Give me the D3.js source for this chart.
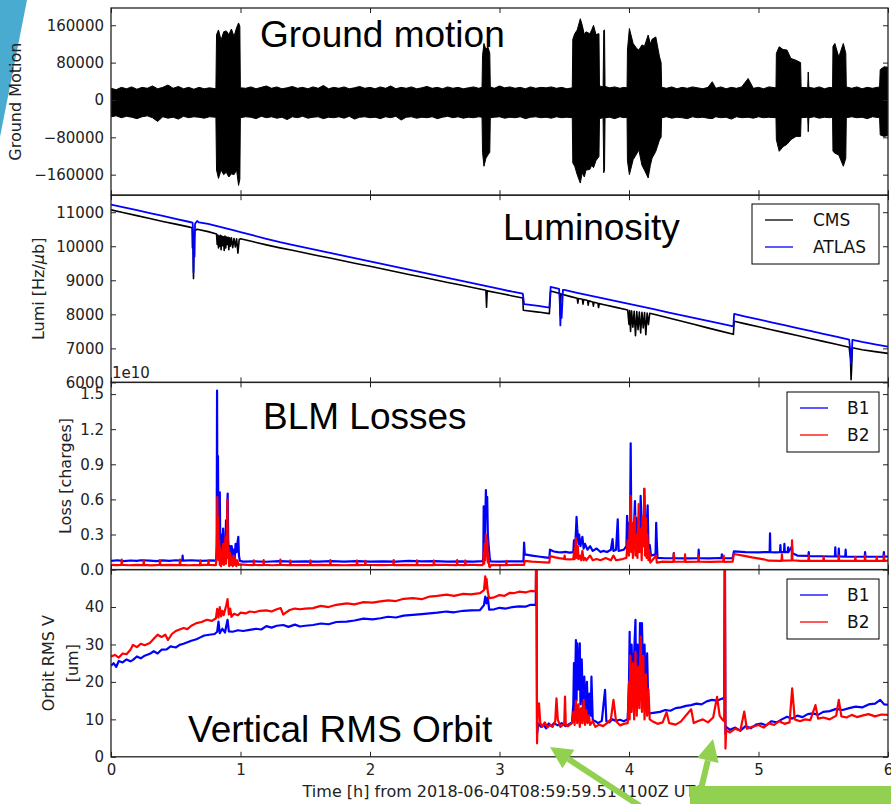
<!DOCTYPE html>
<html>
<head>
<meta charset="utf-8">
<script src="https://cdn.jsdelivr.net/npm/d3@7"></script>
<style>
  html, body { margin: 0; padding: 0; background: #fff; }
  svg { display: block; }
</style>
</head>
<body>
<div id="chart"></div>
<script>
// ---- data (time in hours) ----
const hourTicks = [0, 1, 2, 3, 4, 5, 6];
const groundTicks = [-160000, -80000, 0, 80000, 160000];
const lumiTicks = [6000, 7000, 8000, 9000, 10000, 11000];
const lossTicks = [0, 0.3, 0.6, 0.9, 1.2, 1.5];
const orbitTicks = [0, 10, 20, 30, 40];

// ground motion envelope: [hour, max, min]
const groundEnvelope = [
  [0.00,25000,-36000],[0.04,22000,-34000],[0.08,27000,-38000],[0.12,24000,-35000],[0.16,28000,-37000],
  [0.20,23000,-40000],[0.24,27000,-36000],[0.28,25000,-34000],[0.32,30000,-38000],[0.36,24000,-46000],
  [0.40,27000,-36000],[0.44,32000,-39000],[0.48,25000,-37000],[0.52,29000,-41000],[0.56,24000,-35000],
  [0.60,27000,-38000],[0.64,23000,-36000],[0.68,27000,-37000],[0.72,24000,-39000],[0.76,26000,-36000],
  [0.81,24000,-37000],
  [0.815,140000,-150000],[0.83,150000,-168000],[0.85,128000,-150000],[0.87,146000,-160000],[0.89,148000,-155000],
  [0.91,140000,-165000],[0.93,152000,-158000],[0.95,136000,-160000],[0.97,155000,-150000],[0.985,165000,-183000],
  [0.995,158000,-170000],[0.999,26000,-38000],
  [1.04,25000,-36000],[1.08,28000,-37000],[1.12,24000,-40000],[1.16,27000,-35000],[1.20,30000,-38000],
  [1.24,25000,-36000],[1.28,28000,-39000],[1.32,24000,-37000],[1.36,26000,-42000],[1.40,29000,-36000],
  [1.44,25000,-38000],[1.48,27000,-35000],[1.52,24000,-39000],[1.56,28000,-37000],[1.60,25000,-36000],
  [1.64,31000,-40000],[1.68,24000,-37000],[1.72,27000,-38000],[1.76,25000,-36000],[1.80,28000,-39000],
  [1.84,24000,-35000],[1.88,26000,-41000],[1.92,29000,-37000],[1.96,25000,-36000],[2.00,27000,-38000],
  [2.04,24000,-37000],[2.08,28000,-40000],[2.12,25000,-36000],[2.16,30000,-38000],[2.20,24000,-35000],
  [2.24,27000,-43000],[2.28,25000,-37000],[2.32,28000,-36000],[2.36,24000,-39000],[2.40,26000,-37000],
  [2.44,29000,-38000],[2.48,25000,-36000],[2.52,27000,-40000],[2.56,24000,-37000],[2.60,28000,-35000],
  [2.64,25000,-38000],[2.68,27000,-36000],[2.72,24000,-39000],[2.76,26000,-37000],[2.80,28000,-38000],
  [2.84,25000,-36000],[2.865,27000,-37000],
  [2.869,95000,-112000],[2.88,121000,-142000],[2.895,108000,-125000],[2.91,114000,-118000],[2.925,100000,-112000],
  [2.929,28000,-38000],
  [2.96,25000,-37000],[3.00,30000,-36000],[3.04,26000,-39000],[3.08,28000,-37000],[3.12,25000,-38000],
  [3.16,27000,-36000],[3.20,24000,-40000],[3.24,28000,-37000],[3.28,25000,-36000],[3.32,27000,-38000],
  [3.36,26000,-37000],[3.40,28000,-39000],[3.44,25000,-36000],[3.48,27000,-38000],[3.52,24000,-37000],
  [3.562,26000,-38000],
  [3.566,130000,-135000],[3.581,142000,-142000],[3.600,150000,-160000],[3.624,174000,-178000],[3.639,160000,-156000],
  [3.655,140000,-165000],[3.668,146000,-150000],[3.697,142000,-149000],[3.712,150000,-140000],[3.726,160000,-145000],
  [3.745,140000,-130000],[3.768,142000,-121000],[3.772,30000,-40000],[3.80,28000,-38000],
  [3.805,149000,-156000],[3.811,150000,-150000],[3.815,29000,-38000],
  [3.85,26000,-37000],[3.89,28000,-40000],[3.93,25000,-36000],[3.96,27000,-38000],[3.985,26000,-37000],
  [3.988,107000,-130000],[4.003,153000,-160000],[4.032,121000,-128000],[4.060,110000,-115000],[4.076,107000,-107000],
  [4.10,118000,-140000],[4.119,115000,-150000],[4.148,139000,-167000],[4.165,120000,-140000],[4.178,130000,-125000],
  [4.207,135000,-110000],[4.236,92000,-85000],[4.248,80000,-80000],[4.252,27000,-38000],
  [4.29,25000,-36000],[4.33,28000,-39000],[4.37,24000,-37000],[4.41,27000,-38000],[4.45,25000,-40000],
  [4.49,28000,-36000],[4.53,26000,-38000],[4.57,24000,-37000],[4.61,27000,-39000],[4.643,39000,-40000],
  [4.67,25000,-36000],[4.71,28000,-38000],[4.75,24000,-37000],[4.79,27000,-41000],[4.83,25000,-36000],
  [4.87,28000,-38000],[4.92,46000,-37000],[4.96,25000,-39000],[5.00,27000,-36000],[5.04,24000,-38000],
  [5.08,28000,-37000],[5.135,26000,-38000],
  [5.138,100000,-85000],[5.16,114000,-110000],[5.19,108000,-100000],[5.22,107000,-95000],[5.25,89000,-85000],
  [5.29,85000,-78000],[5.325,80000,-78000],[5.329,27000,-38000],[5.38,26000,-37000],[5.384,60000,-68000],
  [5.389,27000,-38000],
  [5.43,25000,-36000],[5.47,28000,-39000],[5.51,24000,-37000],[5.55,27000,-38000],[5.572,26000,-37000],
  [5.575,115000,-110000],[5.59,121000,-114000],[5.62,92000,-118000],[5.655,121000,-142000],[5.674,100000,-125000],
  [5.678,28000,-38000],
  [5.72,25000,-36000],[5.76,28000,-38000],[5.80,24000,-37000],[5.84,27000,-40000],[5.88,25000,-36000],
  [5.935,28000,-38000],[5.94,65000,-75000],[5.97,71000,-78000],[6.00,70000,-76000]
];

// luminosity [hour, Hz/ub]
const lumiCms = [
  [0.00,11070],[0.10,10985],[0.20,10900],[0.30,10815],[0.40,10730],[0.50,10650],[0.60,10570],
  [0.626,10545],[0.629,9950],[0.633,10300],[0.637,9050],[0.641,10100],[0.645,10450],[0.665,10500],
  [0.75,10430],[0.815,10360],
  [0.82,10050],[0.825,10330],[0.83,9950],[0.835,10300],[0.84,10000],[0.845,10320],[0.85,9900],[0.856,10300],
  [0.862,10020],[0.868,10280],[0.874,9880],[0.88,10300],[0.886,9950],[0.892,10270],[0.898,10050],[0.904,10260],
  [0.91,9900],[0.916,10250],[0.922,10000],[0.93,10250],[0.94,9960],[0.95,10230],[0.96,9980],[0.97,10220],
  [0.98,9800],[0.99,10200],
  [1.00,10220],[1.10,10130],[1.20,10040],[1.305,9953],[1.40,9880],[1.50,9800],[1.60,9720],[1.70,9645],
  [1.80,9565],[1.90,9485],[2.00,9410],[2.10,9330],[2.20,9250],[2.30,9170],[2.40,9095],[2.50,9015],
  [2.60,8935],[2.70,8860],[2.80,8780],[2.895,8705],[2.90,8206],[2.905,8690],[3.00,8620],[3.10,8540],
  [3.18,8478],[3.184,8118],[3.30,8066],[3.385,8020],[3.395,8686],[3.465,8610],[3.47,7950],[3.475,8600],
  [3.55,8520],[3.60,8470],[3.605,8330],[3.61,8465],[3.64,8445],[3.645,8300],[3.65,8435],[3.68,8405],
  [3.685,8270],[3.69,8395],[3.72,8365],[3.725,8240],[3.73,8355],[3.76,8325],[3.765,8200],[3.77,8315],
  [3.80,8290],[3.90,8205],[3.99,8125],
  [4.00,7700],[4.005,8110],[4.012,7500],[4.02,8100],[4.03,7620],[4.04,8090],[4.05,7373],[4.06,8080],
  [4.07,7550],[4.08,8070],[4.09,7450],[4.10,8060],[4.11,7600],[4.12,8050],[4.13,7400],[4.14,8040],
  [4.15,7700],[4.16,8030],
  [4.20,7995],[4.30,7899],[4.40,7803],[4.50,7707],[4.60,7610],[4.70,7514],[4.806,7412],[4.812,7794],
  [4.90,7719],[5.00,7633],[5.10,7548],[5.20,7462],[5.30,7377],[5.40,7292],[5.50,7206],[5.60,7121],
  [5.70,7035],[5.71,6700],[5.715,6078],[5.72,6500],[5.725,7020],[5.80,6960],[5.90,6905],[6.00,6853]
];
const lumiAtlas = [
  [0.00,11225],[0.10,11140],[0.20,11060],[0.30,10975],[0.40,10890],[0.50,10805],[0.60,10720],
  [0.630,10692],[0.633,10500],[0.637,9235],[0.641,10350],[0.645,9700],[0.649,10660],[0.665,10740],
  [0.68,10700],[0.75,10657],[0.85,10560],[0.95,10463],[1.00,10414],[1.10,10317],[1.20,10220],
  [1.305,10118],[1.40,10041],[1.50,9960],[1.60,9879],[1.70,9798],[1.80,9717],[1.90,9636],[2.00,9555],
  [2.10,9474],[2.20,9393],[2.30,9312],[2.40,9231],[2.50,9150],[2.60,9069],[2.70,8988],[2.80,8907],
  [2.90,8826],[3.00,8745],[3.10,8664],[3.18,8610],[3.19,8300],[3.30,8250],[3.385,8196],[3.395,8804],
  [3.46,8750],[3.465,8400],[3.47,7676],[3.475,8300],[3.48,7900],[3.49,8720],[3.50,8717],[3.60,8633],
  [3.70,8550],[3.80,8468],[3.90,8387],[4.00,8305],[4.10,8224],[4.20,8142],[4.30,8060],[4.40,7979],
  [4.50,7897],[4.60,7815],[4.70,7734],[4.806,7647],[4.812,8010],[4.90,7936],[5.00,7851],[5.10,7767],
  [5.20,7682],[5.30,7598],[5.40,7513],[5.50,7429],[5.60,7344],[5.70,7260],[5.71,6900],[5.715,6549],
  [5.72,6800],[5.725,7250],[5.80,7190],[5.90,7120],[6.00,7050]
];

// BLM losses [hour, charges / 1e10]
const lossB1 = [
  [0.00,0.075],[0.05,0.080],[0.10,0.072],[0.15,0.078],[0.20,0.074],[0.23,0.080],[0.30,0.076],[0.35,0.073],
  [0.40,0.079],[0.45,0.075],[0.50,0.080],[0.551,0.077],[0.553,0.12],[0.556,0.077],[0.62,0.080],[0.70,0.075],
  [0.76,0.078],[0.812,0.076],
  [0.816,0.20],[0.819,1.53],[0.822,0.30],[0.826,0.97],[0.830,0.25],[0.835,0.50],[0.840,0.66],[0.844,0.20],
  [0.85,0.30],[0.855,0.12],[0.86,0.22],[0.866,0.35],[0.872,0.15],[0.878,0.28],[0.884,0.20],[0.888,0.42],
  [0.893,0.18],[0.898,0.55],[0.901,0.65],[0.905,0.25],[0.912,0.15],[0.918,0.20],[0.925,0.12],[0.932,0.20],
  [0.94,0.10],[0.948,0.17],[0.955,0.10],[0.962,0.22],[0.97,0.15],[0.978,0.24],[0.983,0.28],[0.988,0.12],
  [0.995,0.075],
  [1.02,0.068],[1.10,0.070],[1.20,0.067],[1.30,0.072],[1.40,0.068],[1.50,0.071],[1.60,0.068],[1.70,0.073],
  [1.80,0.069],[1.90,0.072],[2.00,0.068],[2.10,0.071],[2.20,0.069],[2.30,0.074],[2.40,0.070],[2.50,0.072],
  [2.60,0.068],[2.70,0.071],[2.80,0.069],[2.87,0.072],
  [2.875,0.10],[2.878,0.54],[2.882,0.20],[2.888,0.30],[2.895,0.68],[2.90,0.45],[2.905,0.62],[2.91,0.30],
  [2.918,0.18],[2.925,0.10],[2.93,0.070],[3.00,0.069],[3.10,0.071],[3.185,0.070],
  [3.19,0.23],[3.195,0.13],[3.25,0.120],[3.30,0.112],[3.35,0.105],[3.385,0.100],[3.39,0.170],[3.42,0.155],
  [3.45,0.150],[3.48,0.148],[3.51,0.152],[3.54,0.145],[3.57,0.15],
  [3.575,0.25],[3.585,0.20],[3.595,0.45],[3.60,0.35],[3.61,0.22],[3.615,0.30],[3.625,0.20],[3.64,0.28],
  [3.65,0.18],[3.66,0.22],[3.68,0.17],[3.70,0.20],[3.72,0.16],[3.75,0.18],[3.78,0.15],[3.80,0.16],
  [3.83,0.15],[3.86,0.17],[3.873,0.26],[3.88,0.16],[3.90,0.17],[3.913,0.43],[3.92,0.16],[3.96,0.17],
  [3.98,0.20],
  [3.985,0.46],[3.99,0.25],[4.00,0.40],[4.007,0.18],[4.013,1.08],[4.018,0.30],[4.025,0.37],[4.035,0.25],
  [4.046,0.585],[4.052,0.30],[4.058,0.44],[4.065,0.25],[4.08,0.48],[4.085,0.28],[4.09,0.63],[4.10,0.30],
  [4.108,0.40],[4.113,0.25],[4.118,0.69],[4.125,0.32],[4.132,0.25],[4.144,0.55],[4.15,0.20],[4.16,0.21],
  [4.17,0.12],[4.205,0.13],[4.21,0.40],[4.215,0.23],[4.22,0.10],
  [4.28,0.097],[4.343,0.098],[4.346,0.14],[4.349,0.097],[4.45,0.096],[4.535,0.098],[4.538,0.17],[4.541,0.097],
  [4.62,0.096],[4.70,0.099],[4.714,0.097],[4.717,0.13],[4.72,0.098],[4.80,0.097],
  [4.81,0.155],[4.90,0.150],[5.00,0.148],[5.086,0.150],[5.089,0.31],[5.092,0.150],[5.13,0.148],[5.166,0.150],
  [5.169,0.21],[5.172,0.15],[5.197,0.150],[5.20,0.22],[5.203,0.15],[5.226,0.150],[5.229,0.19],[5.232,0.15],
  [5.259,0.20],[5.262,0.14],[5.30,0.12],[5.385,0.118],[5.388,0.15],[5.391,0.115],[5.48,0.114],[5.59,0.112],
  [5.593,0.19],[5.596,0.113],[5.617,0.112],[5.62,0.18],[5.623,0.113],[5.67,0.111],[5.673,0.17],[5.676,0.112],
  [5.82,0.110],[5.823,0.15],[5.826,0.111],[5.965,0.110],[5.968,0.15],[5.971,0.111],[6.00,0.112]
];
const lossB2 = [
  [0.00,0.040],[0.04,0.038],[0.08,0.041],[0.083,0.085],[0.086,0.040],[0.14,0.037],[0.20,0.041],[0.25,0.039],
  [0.253,0.080],[0.256,0.040],[0.31,0.036],[0.375,0.040],[0.378,0.082],[0.381,0.039],[0.45,0.041],[0.53,0.038],
  [0.533,0.085],[0.536,0.040],[0.60,0.037],[0.687,0.040],[0.690,0.080],[0.693,0.039],[0.75,0.042],[0.753,0.078],
  [0.756,0.040],[0.81,0.038],
  [0.815,0.10],[0.819,0.30],[0.821,0.62],[0.824,0.15],[0.828,0.45],[0.832,0.08],[0.836,0.25],[0.84,0.04],
  [0.845,0.18],[0.85,0.03],[0.855,0.12],[0.86,0.05],[0.866,0.22],[0.872,0.04],[0.878,0.15],[0.884,0.28],
  [0.888,0.05],[0.894,0.20],[0.899,0.60],[0.903,0.10],[0.908,0.18],[0.913,0.03],[0.92,0.14],[0.926,0.04],
  [0.932,0.10],[0.94,0.03],[0.946,0.12],[0.952,0.04],[0.96,0.09],[0.968,0.03],[0.975,0.08],[0.985,0.04],
  [0.995,0.045],
  [1.05,0.040],[1.10,0.038],[1.103,0.080],[1.106,0.040],[1.176,0.039],[1.179,0.082],[1.182,0.040],[1.25,0.037],
  [1.305,0.041],[1.308,0.085],[1.311,0.040],[1.382,0.039],[1.385,0.078],[1.388,0.040],[1.46,0.038],[1.537,0.040],
  [1.540,0.080],[1.543,0.039],[1.62,0.041],[1.691,0.038],[1.694,0.082],[1.697,0.040],[1.80,0.037],[1.897,0.040],
  [1.900,0.078],[1.903,0.039],[1.961,0.041],[1.964,0.075],[1.967,0.040],[2.08,0.038],[2.18,0.040],[2.183,0.082],
  [2.186,0.039],[2.27,0.041],[2.36,0.039],[2.363,0.080],[2.366,0.040],[2.49,0.038],[2.493,0.078],[2.496,0.040],
  [2.58,0.041],[2.67,0.039],[2.673,0.082],[2.676,0.040],[2.733,0.038],[2.736,0.078],[2.739,0.040],[2.80,0.041],
  [2.87,0.039],
  [2.875,0.06],[2.878,0.15],[2.882,0.05],[2.886,0.22],[2.89,0.08],[2.895,0.30],[2.90,0.12],[2.905,0.25],
  [2.91,0.06],[2.915,0.12],[2.92,0.03],[2.925,0.02],[2.935,0.040],[3.00,0.038],[3.05,0.040],[3.053,0.075],
  [3.056,0.039],[3.12,0.040],[3.19,0.041],
  [3.195,0.075],[3.25,0.068],[3.30,0.065],[3.35,0.062],[3.385,0.060],[3.39,0.115],[3.43,0.105],[3.46,0.098],
  [3.50,0.092],[3.503,0.12],[3.506,0.090],[3.54,0.088],[3.57,0.090],
  [3.575,0.15],[3.58,0.09],[3.59,0.27],[3.595,0.10],[3.605,0.20],[3.61,0.09],[3.62,0.12],[3.63,0.08],
  [3.64,0.16],[3.65,0.08],[3.66,0.10],[3.67,0.08],[3.70,0.12],[3.72,0.08],[3.75,0.09],[3.78,0.08],
  [3.82,0.10],[3.86,0.08],[3.88,0.12],[3.90,0.08],[3.95,0.09],[3.98,0.10],
  [3.99,0.25],[4.00,0.12],[4.005,0.37],[4.013,0.63],[4.018,0.15],[4.025,0.40],[4.03,0.10],[4.038,0.35],
  [4.046,0.46],[4.05,0.12],[4.058,0.30],[4.065,0.10],[4.075,0.56],[4.08,0.15],[4.09,0.35],[4.098,0.08],
  [4.105,0.45],[4.112,0.20],[4.118,0.69],[4.124,0.12],[4.13,0.44],[4.136,0.10],[4.142,0.30],[4.15,0.08],
  [4.158,0.15],[4.165,0.06],[4.21,0.12],[4.215,0.06],
  [4.26,0.068],[4.343,0.066],[4.346,0.14],[4.349,0.067],[4.43,0.068],[4.433,0.13],[4.436,0.066],[4.535,0.068],
  [4.538,0.12],[4.541,0.067],[4.63,0.066],[4.70,0.068],[4.728,0.067],[4.731,0.12],[4.734,0.066],[4.80,0.068],
  [4.81,0.133],[4.88,0.120],[4.95,0.105],[5.04,0.088],[5.08,0.076],[5.178,0.075],[5.181,0.13],[5.184,0.076],
  [5.256,0.078],[5.259,0.25],[5.262,0.080],[5.32,0.075],[5.385,0.074],[5.388,0.12],[5.391,0.076],[5.50,0.075],
  [5.503,0.11],[5.506,0.074],[5.617,0.076],[5.62,0.12],[5.623,0.075],[5.745,0.074],[5.748,0.11],[5.751,0.076],
  [5.82,0.075],[5.823,0.12],[5.826,0.074],[5.91,0.076],[5.913,0.11],[5.916,0.075],[5.965,0.074],[5.968,0.12],
  [5.971,0.075],[6.00,0.076]
];

// vertical orbit RMS [hour, um]
const orbitB1 = [
  [0.00,24.3],[0.02,25.0],[0.04,24.0],[0.06,25.6],[0.09,25.2],[0.12,26.0],[0.15,25.5],[0.17,25.9],
  [0.20,26.8],[0.23,26.3],[0.26,27.0],[0.30,27.5],[0.33,28.2],[0.36,27.6],[0.39,28.6],[0.43,28.7],
  [0.46,29.5],[0.50,29.2],[0.53,29.9],[0.56,30.2],[0.59,30.6],[0.62,31.0],[0.66,31.4],[0.69,31.9],
  [0.72,32.4],[0.76,32.6],[0.80,32.8],[0.82,33.4],[0.83,36.1],[0.84,33.0],[0.86,34.2],[0.88,33.2],
  [0.90,36.6],[0.91,33.5],[0.94,33.4],[0.98,33.8],[1.02,33.6],[1.07,33.9],[1.12,34.2],[1.16,34.0],
  [1.20,34.9],[1.24,34.5],[1.28,35.0],[1.33,35.2],[1.37,34.7],[1.42,35.3],[1.46,34.8],[1.50,35.0],
  [1.56,35.2],[1.62,35.6],[1.68,35.4],[1.74,36.0],[1.82,36.1],[1.88,36.4],[1.95,36.9],[2.02,36.7],
  [2.08,37.0],[2.14,37.4],[2.20,37.2],[2.26,37.7],[2.33,37.9],[2.40,38.1],[2.46,38.3],[2.52,38.5],
  [2.59,38.8],[2.65,38.6],[2.72,39.0],[2.78,39.1],[2.85,39.2],[2.88,40.5],[2.89,42.8],[2.90,41.0],
  [2.91,42.5],[2.92,39.3],[2.96,39.4],[3.00,39.8],[3.05,39.6],[3.10,40.0],[3.15,40.2],[3.20,40.1],
  [3.24,40.6],[3.28,40.6],
  [3.285,60],[3.29,6.0],[3.30,8.9],[3.32,8.0],[3.34,8.6],[3.36,7.6],[3.38,8.9],[3.40,8.2],[3.42,9.0],
  [3.45,8.4],[3.48,9.0],[3.51,8.2],[3.54,8.8],[3.56,9.2],
  [3.57,14],[3.575,25],[3.58,12],[3.59,31.2],[3.595,15],[3.60,30.3],[3.61,18],[3.62,30.3],[3.625,14],
  [3.635,26],[3.645,12],[3.655,21.4],[3.665,11],[3.675,20],[3.685,10],[3.695,16.9],[3.705,11],[3.71,21.4],
  [3.72,9.8],[3.74,9.5],[3.76,9.0],[3.79,9.6],[3.815,17.9],[3.825,9.5],[3.85,9.2],[3.87,10.0],[3.90,9.6],
  [3.93,9.9],[3.96,9.5],[3.99,10.0],
  [4.00,20],[4.005,33.4],[4.01,15],[4.02,30],[4.03,18],[4.04,28],[4.05,36.6],[4.055,16],[4.065,30],
  [4.075,14],[4.085,35.7],[4.09,18],[4.10,35.7],[4.11,20],[4.12,30],[4.13,15],[4.14,27.6],[4.15,12],
  [4.16,11.6],
  [4.20,11.8],[4.24,12.0],[4.28,12.5],[4.32,12.3],[4.36,13.0],[4.40,13.2],[4.44,13.6],[4.48,13.8],
  [4.52,14.2],[4.56,14.0],[4.60,14.8],[4.64,15.2],[4.68,15.0],[4.72,15.6],[4.735,15.4],
  [4.74,60],[4.745,6.0],[4.75,8.0],[4.78,7.2],[4.82,7.8],[4.86,7.0],[4.90,8.2],[4.94,7.6],[4.98,8.6],
  [5.02,8.9],[5.06,8.4],[5.10,9.5],[5.14,9.2],[5.18,10.0],[5.22,10.7],[5.26,10.2],[5.30,11.0],[5.34,10.6],
  [5.38,11.4],[5.42,11.6],[5.46,11.2],[5.50,12.0],[5.55,12.2],[5.60,12.8],[5.65,12.5],[5.70,13.0],
  [5.75,13.4],[5.80,13.2],[5.85,14.0],[5.90,14.2],[5.94,15.2],[5.97,14.0],[6.00,13.9]
];
const orbitB2 = [
  [0.00,26.8],[0.03,27.2],[0.06,26.5],[0.09,27.6],[0.12,27.4],[0.15,28.6],[0.17,29.9],[0.20,29.3],
  [0.23,30.2],[0.26,29.8],[0.30,30.4],[0.33,31.5],[0.36,32.6],[0.39,32.0],[0.42,32.6],[0.44,31.2],
  [0.47,32.8],[0.50,33.6],[0.53,34.0],[0.56,34.4],[0.59,34.1],[0.62,35.0],[0.66,35.7],[0.70,36.0],
  [0.74,36.6],[0.78,36.3],[0.81,37.0],
  [0.82,39.5],[0.83,37.2],[0.84,40.0],[0.85,37.5],[0.86,39.0],[0.87,37.8],[0.89,40.5],[0.90,42.1],
  [0.91,38.0],[0.92,39.6],[0.93,37.4],[0.95,38.2],[0.98,37.8],[1.00,38.5],[1.04,38.3],[1.07,38.8],
  [1.11,38.6],[1.15,39.0],[1.20,39.1],[1.24,38.8],[1.28,39.4],[1.31,39.7],[1.33,38.0],[1.35,38.5],
  [1.38,39.2],[1.42,39.6],[1.46,39.4],[1.50,39.6],[1.56,39.7],[1.62,40.3],[1.68,40.0],[1.74,40.6],
  [1.82,41.0],[1.88,40.7],[1.95,41.3],[2.02,41.2],[2.08,41.5],[2.14,41.8],[2.20,41.6],[2.26,42.2],
  [2.33,42.4],[2.40,42.1],[2.46,42.8],[2.52,43.0],[2.59,43.3],[2.65,43.0],[2.72,43.5],[2.78,43.4],
  [2.85,43.7],[2.88,44.5],[2.89,48.2],[2.895,45.0],[2.90,47.5],[2.91,44.0],[2.92,42.4],[2.96,42.6],
  [3.00,43.2],[3.04,43.0],[3.08,43.8],[3.11,43.7],[3.15,44.1],[3.20,43.9],[3.24,44.3],[3.28,44.2],
  [3.285,60],[3.29,3.6],[3.295,11.6],[3.305,14.3],[3.315,9.0],[3.33,8.0],[3.35,9.2],[3.37,7.8],
  [3.39,8.5],[3.41,8.0],[3.43,9.5],[3.44,15.6],[3.45,10.0],[3.47,8.0],[3.50,8.8],[3.506,16.1],
  [3.512,8.4],[3.53,8.2],[3.56,9.0],
  [3.57,12.0],[3.58,8.5],[3.59,15.0],[3.60,9.0],[3.61,14.0],[3.62,8.0],[3.63,13.0],[3.64,9.0],
  [3.65,15.2],[3.66,8.5],[3.67,12.5],[3.68,9.0],[3.69,11.0],[3.70,8.5],[3.72,9.5],[3.74,8.0],
  [3.77,8.6],[3.80,8.2],[3.83,9.0],[3.86,10.0],[3.88,15.2],[3.90,9.5],[3.93,8.4],[3.96,8.8],
  [3.99,9.0],[4.00,20],[4.005,10],[4.01,27],[4.02,12],[4.03,25],[4.04,10],[4.05,28],[4.06,11],
  [4.07,24],[4.08,13],[4.09,32.1],[4.10,12],[4.11,27],[4.12,10],[4.13,22],[4.14,11],[4.15,18],
  [4.16,10],[4.18,9.5],
  [4.22,8.8],[4.26,9.2],[4.29,11.9],[4.31,9.0],[4.36,8.6],[4.40,9.4],[4.48,12.7],[4.50,9.0],
  [4.53,9.5],[4.57,10.0],[4.61,9.2],[4.65,10.5],[4.68,16.0],[4.70,11.0],[4.72,10.0],[4.735,9.5],
  [4.74,60],[4.745,2.2],[4.75,7.1],[4.78,6.5],[4.82,7.5],[4.86,7.0],[4.89,12.1],[4.91,7.5],
  [4.95,8.0],[5.00,8.5],[5.04,7.8],[5.08,9.0],[5.12,8.5],[5.16,9.5],[5.20,8.8],[5.24,9.2],
  [5.26,18.3],[5.28,10.0],[5.32,9.5],[5.36,10.0],[5.40,9.8],[5.44,13.8],[5.46,10.2],[5.50,10.5],
  [5.55,10.0],[5.60,11.0],[5.62,15.2],[5.64,10.8],[5.68,10.5],[5.72,11.2],[5.76,10.6],[5.80,11.0],
  [5.85,11.4],[5.90,10.8],[5.95,11.3],[6.00,11.2]
];

// ---- chart ----
class StackedTimeChart {
    constructor(containerId) {
        this.containerId = containerId;
        this.width = 891;
        this.height = 804;
        this.left = 111;
        this.right = 888;
        this.top = 8;
        this.panelHeight = 187.2;
        this.tickFont = 'DejaVu Sans, Verdana, sans-serif';
        this.titleFont = 'Liberation Sans, Arial, sans-serif';
        this.x = d3.scaleLinear().domain([0, 6]).range([this.left, this.right]);
        this.init();
    }

    init() {
        this.svg = d3.select(`#${this.containerId}`)
            .append('svg')
            .attr('width', this.width)
            .attr('height', this.height);

        this.drawDecor();

        this.drawPanel(0, {
            domain: [-204000, 197000], ticks: groundTicks, format: d3.format('d'),
            title: 'Ground motion', titleX: 260, titleY: 47,
            label: ['Ground Motion'], labelX: [15.5],
            draw: (g, y) => {
                const area = d3.area()
                    .x(d => this.x(d[0]))
                    .y0(d => y(d[2]))
                    .y1(d => y(d[1]));
                g.append('path').datum(groundEnvelope)
                    .attr('d', area)
                    .attr('fill', '#000')
                    .attr('stroke', '#000')
                    .attr('stroke-width', 1);
            }
        });

        this.drawPanel(1, {
            domain: [6000, 11500], ticks: lumiTicks, format: d3.format('d'),
            title: 'Luminosity', titleX: 503, titleY: 240,
            label: ['Lumi [Hz/', 'b]'], labelX: [38], mu: true,
            draw: (g, y) => {
                this.drawLine(g, y, lumiCms, '#000', 1.6);
                this.drawLine(g, y, lumiAtlas, '#0000ff', 1.8);
            },
            legend: { x: 752, y: 204, w: 127, h: 60, lineX: 765, textX: 813,
                items: [['CMS', '#000'], ['ATLAS', '#0000ff']] }
        });

        this.drawPanel(2, {
            domain: [0, 1.6], ticks: lossTicks, format: d3.format('.1f'),
            title: 'BLM Losses', titleX: 263, titleY: 429,
            label: ['Loss [charges]'], labelX: [65],
            draw: (g, y) => {
                this.drawLine(g, y, lossB1, '#0000ff', 2.2);
                this.drawLine(g, y, lossB2, '#ff0000', 2.2);
            },
            legend: { x: 787, y: 392, w: 92, h: 60, lineX: 800, textX: 847,
                items: [['B1', '#0000ff'], ['B2', '#ff0000']] }
        });

        this.drawPanel(3, {
            domain: [0, 50], ticks: orbitTicks, format: d3.format('d'),
            title: 'Vertical RMS Orbit', titleX: 188, titleY: 742,
            label: ['Orbit RMS V', '[um]'], labelX: [48, 72.5],
            draw: (g, y) => {
                this.drawLine(g, y, orbitB1, '#0000ff', 2.2);
                this.drawLine(g, y, orbitB2, '#ff0000', 2.2);
            },
            legend: { x: 787, y: 579, w: 92, h: 60, lineX: 800, textX: 847,
                items: [['B1', '#0000ff'], ['B2', '#ff0000']] },
            xLabels: true
        });

        // offset text of the loss axis
        this.svg.append('text')
            .attr('x', 112).attr('y', 378)
            .attr('font-family', this.tickFont).attr('font-size', 15)
            .attr('fill', '#222')
            .text('1e10');

        this.svg.append('text')
            .attr('x', 504).attr('y', 797)
            .attr('text-anchor', 'middle')
            .attr('font-family', this.tickFont).attr('font-size', 16)
            .attr('fill', '#222')
            .text('Time [h] from 2018-06-04T08:59:59.514100Z UTC');

        this.drawAnnotations();
    }

    drawLine(g, y, data, color, width) {
        const line = d3.line().x(d => this.x(d[0])).y(d => y(d[1]));
        g.append('path').datum(data)
            .attr('d', line)
            .attr('fill', 'none')
            .attr('stroke', color)
            .attr('stroke-width', width)
            .attr('stroke-linejoin', 'round');
    }

    drawPanel(i, cfg) {
        const top = this.top + i * this.panelHeight;
        const h = this.panelHeight;
        const y = d3.scaleLinear().domain(cfg.domain).range([top + h, top]);
        const clipId = `clip${i}`;

        this.svg.append('clipPath').attr('id', clipId)
            .append('rect')
            .attr('x', this.left).attr('y', top)
            .attr('width', this.right - this.left).attr('height', h);

        const plot = this.svg.append('g').attr('clip-path', `url(#${clipId})`);
        cfg.draw(plot, y);

        // title inside the panel
        this.svg.append('text')
            .attr('x', cfg.titleX).attr('y', cfg.titleY)
            .attr('font-family', this.titleFont).attr('font-size', 37)
            .attr('fill', '#000')
            .text(cfg.title);

        // axes, ticks pointing inward on all four sides
        const styleAxis = sel => {
            sel.select('.domain').remove();
            sel.attr('font-family', this.tickFont).attr('font-size', 15).attr('color', '#222');
            sel.selectAll('line').attr('stroke-width', 1);
        };
        this.svg.append('g')
            .attr('transform', `translate(${this.left},0)`)
            .call(d3.axisLeft(y).tickValues(cfg.ticks).tickFormat(cfg.format).tickSize(-5).tickPadding(7))
            .call(styleAxis);
        this.svg.append('g')
            .attr('transform', `translate(${this.right},0)`)
            .call(d3.axisRight(y).tickValues(cfg.ticks).tickFormat('').tickSize(-5))
            .call(styleAxis);
        this.svg.append('g')
            .attr('transform', `translate(0,${top})`)
            .call(d3.axisTop(this.x).tickValues(hourTicks).tickFormat('').tickSize(-5))
            .call(styleAxis);
        this.svg.append('g')
            .attr('transform', `translate(0,${top + h})`)
            .call(d3.axisBottom(this.x).tickValues(hourTicks)
                .tickFormat(cfg.xLabels ? d3.format('d') : '').tickSize(-5).tickPadding(8))
            .call(styleAxis);

        this.svg.append('rect')
            .attr('x', this.left).attr('y', top)
            .attr('width', this.right - this.left).attr('height', h)
            .attr('fill', 'none').attr('stroke', '#222').attr('stroke-width', 1.3);

        // y label (rotated)
        const cy = top + h / 2;
        const lines = cfg.mu ? [null] : cfg.label;
        lines.forEach((txt, k) => {
            const t = this.svg.append('text')
                .attr('transform', `translate(${cfg.labelX[k]},${cy}) rotate(-90)`)
                .attr('text-anchor', 'middle')
                .attr('dy', '0.35em')
                .attr('font-family', this.tickFont).attr('font-size', 16)
                .attr('fill', '#222');
            if (cfg.mu) {
                t.append('tspan').text(cfg.label[0]);
                t.append('tspan').attr('font-style', 'italic').text('\u03bc');
                t.append('tspan').text(cfg.label[1]);
            } else {
                t.text(txt);
            }
        });

        if (cfg.legend) this.drawLegend(cfg.legend);
    }

    drawLegend(lg) {
        const g = this.svg.append('g');
        g.append('rect')
            .attr('x', lg.x).attr('y', lg.y)
            .attr('width', lg.w).attr('height', lg.h)
            .attr('fill', '#fff').attr('stroke', '#000').attr('stroke-width', 1);
        lg.items.forEach((it, k) => {
            const yy = lg.y + 16 + k * 27;
            g.append('line')
                .attr('x1', lg.lineX).attr('x2', lg.lineX + 28)
                .attr('y1', yy).attr('y2', yy)
                .attr('stroke', it[1]).attr('stroke-width', 1.3);
            g.append('text')
                .attr('x', lg.textX).attr('y', yy)
                .attr('dy', '0.35em')
                .attr('font-family', this.tickFont).attr('font-size', 17)
                .attr('fill', '#111')
                .text(it[0]);
        });
    }

    drawDecor() {
        // slanted blue shape in the top-left corner of the slide
        this.svg.append('path')
            .attr('d', 'M0,0 L27,0 L0,137 Z')
            .attr('fill', '#4aabd1');
    }

    drawAnnotations() {
        const green = '#92d050';
        const arrow = (x1, y1, x2, y2) => {
            const dx = x2 - x1, dy = y2 - y1;
            const len = Math.hypot(dx, dy);
            const ux = dx / len, uy = dy / len;
            const hl = 22, hw = 11;
            const bx = x2 - ux * hl, by = y2 - uy * hl;
            this.svg.append('line')
                .attr('x1', x1).attr('y1', y1).attr('x2', bx).attr('y2', by)
                .attr('stroke', green).attr('stroke-width', 6);
            this.svg.append('path')
                .attr('d', `M${x2},${y2} L${bx - uy * hw},${by + ux * hw} L${bx + uy * hw},${by - ux * hw} Z`)
                .attr('fill', green);
        };
        this.svg.append('rect')
            .attr('x', 690).attr('y', 786)
            .attr('width', 201).attr('height', 18)
            .attr('fill', green);
        arrow(640, 806, 550, 747);
        arrow(697, 806, 713, 739);
    }
}

new StackedTimeChart('chart');
</script>
</body>
</html>
